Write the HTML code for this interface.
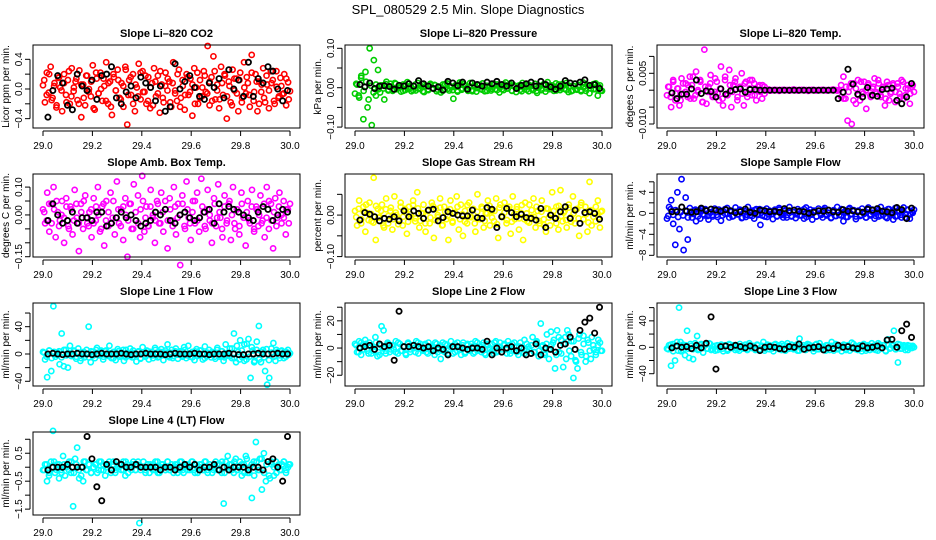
<!DOCTYPE html>
<html><head><meta charset="utf-8">
<style>
html,body{margin:0;padding:0;background:#fff;}
svg{display:block;font-family:"Liberation Sans",sans-serif;}
</style></head>
<body>
<svg id="chart" width="936" height="540" viewBox="0 0 936 540" xmlns="http://www.w3.org/2000/svg">
<text x="468" y="14" text-anchor="middle" font-size="13">SPL_080529  2.5 Min. Slope Diagnostics</text>
</svg>
<script>
const xTicks = [29.0, 29.2, 29.4, 29.6, 29.8, 30.0];
const xTickLabels = ["29.0","29.2","29.4","29.6","29.8","30.0"];

const co2Colored = [5,-18,22,-5,30,-12,8,-25,15,2,-30,20,-8,12,-20,28,-3,10,-15,25,-38,6,-22,18,0,-10,32,-28,14,-6,22,-16,4,36,-20,10,-35,16,-2,26,-12,8,-24,30,-48,12,-8,20,-30,2,34,-14,24,-4,-20,16,-26,8,28,-10,18,-32,6,-18,22,-2,10,-24,36,-6,-16,26,-12,4,-28,20,-8,14,-36,28,2,-20,12,-10,24,-4,58,-22,16,44,-14,6,-26,30,-8,18,-40,10,-18,26,-2,14,-30,22,-12,36,-6,8,-24,46,-16,20,-30,10,-4,28,-18,6,-26,24,12,-20,3,-12,15,-7,20,-22,9,-3];
const co2Extra = [12,-8,20,-15,4,-22,16,-2,8,-18,24,-10,2,14,-20,6,-12,18,-4,10,-26,22,-6,0,14,-16,8,-24,20,-2,12,-14,4,26,-8,16,-20,6,-10,22,-4,18,-16,2,-22,10,-6,24,-12,4,14,-18,8,-2,20,-24,12,-8,16,-4,6,-20,22,-12,2,18,-6,10,-16,24,-2,-14,8,20,-10,4,-22,14,-6,12,-18,2,16,-8,22,-4,10,-20,6,-12,18,-2,8,-16,24,-10,4,-6,14,-14];
const co2Black = [-38,-2,18,8,-22,-28,20,4,-2,12,-14,18,20,30,-12,-20,-4,4,-12,16,8,2,-16,4,-30,-24,34,0,10,18,2,-10,-14,8,2,14,-12,26,0,12,-10,36,-10,14,8,30,24,0,-16,-2];
const presColored = [-15,8,-25,30,-80,40,-50,100,-95,70,-20,45,-12,6,-30,15,-5,10,-8,12,-4,2,-10,8,-6,14,-2,-9,5,-7,12,-3,9,-11,4,-6,10,-1,7,-9,3,-12,8,-4,11,-7,2,-28,6,-10,13,-5,9,-2,-8,12,-6,4,-10,7,-3,11,-9,5,-1,-7,10,-4,8,-12,3,-6,13,-2,9,-8,6,-11,2,-5,12,-3,7,-9,4,-6,10,-13,5,-2,8,-10,14,-4,6,-8,11,-1,-6,9,-3,12,-11,4,-7,10,-5,2,-9,13,-2,7,-14,5,-4,11,-20,6,-8];
const presExtra = [10,-20,25,-8,15,-30,5,-12,8,-4,6,-2,9,-7,3,-5,10,-1,4,-8,7,-3,2,-6,8,-2,5,-9,3,-4,7,-1,6,-5,2,-8,9,-3,4,-6,1,-7,8,-2,5,-4,3,-9,6,-1,7,-5,2,-8,4,-3,9,-6,1,-4,8,-2,5,-7,3,-1,6,-9,2,-5,7,-3,4,-8,1,-6,9,-2,5,-4,3,-7,8,-1,6,-5,2,-9,4,-3,7,-6,1,-8,5,-2,9,-4,3,-7];
const presBlack = [8,2,12,-2,4,5,3,-4,6,4,10,4,18,10,4,-2,2,-6,16,12,5,14,-4,12,8,4,14,10,16,8,4,12,-2,6,10,14,4,16,8,2,-4,4,18,12,10,14,20,6,8,-2];
const tempColored = [-15,10,-50,25,-30,5,-45,35,-10,20,-20,40,15,-25,55,-5,30,-35,120,-40,10,45,-15,-5,25,-30,70,-45,40,-10,60,-50,15,35,-20,5,50,-45,25,-10,30,-15,20,-30,10,-5,15,-10,0,2,-1,0,1,0,-2,0,1,0,0,-1,0,2,0,-1,0,1,0,0,-2,0,1,0,-1,0,0,1,0,-1,0,0,2,0,-1,0,-20,40,-25,-90,10,-100,20,-40,30,-30,-5,25,-55,15,-15,5,35,-10,20,-20,10,-45,25,-30,-5,15,-35,20,-10,30,-25,5,15,-40,10,-5];
const tempExtra = [10,-20,30,-10,5,-30,20,-5,15,-25,40,-15,0,25,-35,10,-5,20,-20,35,-10,5,-25,30,-15,15,-5,25,-30,10,-10,20,-20,5,30,-15,0,15,-25,10,0,0,0,0,0,0,0,0,0,0,0,0,0,0,0,0,0,0,0,0,0,0,0,0,0,0,0,0,0,0,15,-25,10,-5,20,-30,5,-15,25,-10,0,20,-20,10,-5,30,-15,5,-25,15,-10,20,-5,10,-20,25,-15,5,-10,15];
const tempBlack = [-8,-25,-12,-12,4,30,-10,-2,-4,-20,4,-12,-2,2,4,-6,2,2,0,0,0,0,0,0,0,0,0,0,0,0,0,0,0,0,-25,-6,62,18,-12,-20,8,-15,-18,2,4,6,-30,-40,-20,20];
const ambColored = [2,-3,8,-6,4,10,-8,1,-2,5,-10,6,-4,3,-7,9,-1,-13,4,-5,7,-3,1,-8,6,-2,10,-6,3,-11,5,-4,8,-1,-7,12,-3,2,-9,6,-15,4,-5,11,-2,7,-8,14,-6,3,-4,9,-1,-10,5,-3,8,-6,2,-12,6,-2,10,-7,4,-18,7,-4,12,-1,-9,5,-3,8,-6,13,1,-5,9,-2,-10,6,-4,11,-1,-8,7,-3,4,-9,10,-5,2,-7,8,-1,-11,5,-3,9,-6,3,-4,7,-2,-8,10,-5,4,-12,6,-1,8,-3,5,-7,2,4];
const ambExtra = [1,-2,4,-3,2,5,-4,0,-1,3,-5,2,-2,4,-3,1,5,-1,-4,2,-3,3,0,-5,4,-2,1,-3,5,-1,2,-4,3,0,-2,4,-5,1,-3,2,5,-1,-4,3,0,-2,4,-3,1,5,-2,2,-4,3,-1,0,4,-5,2,-3,1,5,-2,-1,3,-4,2,0,-3,4,-1,1,-5,3,-2,5,0,-3,2,-4,4,-1,1,-2,3,-5,2,0,-3,4,-1,5,-2,1,-4,3,0,-1,2,-3];
const ambBlack = [-2,4,0,-3,-2,1,-3,-1,-1,-2,1,1,-4,-3,-1,1,-1,0,-2,-4,-3,-2,1,0,2,-2,-3,0,1,-1,-2,-1,1,2,-3,4,1,3,2,1,0,-1,-2,1,3,2,-2,0,2,1];
const rhColored = [10,-25,35,-10,20,-40,5,30,-15,90,-60,15,-5,25,-30,40,-20,10,-35,45,0,-10,30,-25,15,-45,20,-5,35,-15,55,-30,5,25,-40,10,-20,30,-55,15,-5,40,-25,20,-10,-60,35,-15,5,45,-35,25,-50,10,-20,30,-5,15,-40,50,-10,20,-30,5,35,-25,10,-15,40,-55,25,-5,30,-20,15,-45,45,-10,20,-35,5,-60,30,-15,25,-5,40,-30,10,-20,35,-10,-40,15,-25,55,-5,20,-35,60,-15,10,-30,25,-5,45,-20,15,-50,30,-10,20,-40,80,-25,5,-15,35,-30,10];
const rhExtra = [-5,15,-20,8,25,-12,3,-18,22,-6,10,-25,14,-2,18,-10,6,-22,20,-4,12,-16,2,24,-8,16,-14,4,-20,10,-6,22,-12,0,18,-24,8,-2,14,-18,6,20,-10,2,-16,24,-4,12,-20,8,-8,16,-14,4,22,-6,10,-22,18,-2,6,-12,20,-16,2,14,-8,24,-10,4,-18,12,-4,20,-14,8,-24,16,-6,0,10,-20,22,-2,6,-12,18,-16,4,14,-8,24,-10,2,-18,12,-4,20,-6,8];
const rhBlack = [-12,6,2,-4,-14,-8,-10,-4,-14,10,-4,10,4,-8,12,14,-14,-6,8,4,0,-2,-2,12,-6,-8,18,14,-30,-4,16,6,-4,2,-6,-8,-12,16,-30,0,-8,8,20,-8,12,-20,6,8,4,-10];
const sampColored = [-10,12,25,-20,-60,40,-30,65,-70,30,-50,10,-8,5,-15,3,-10,8,-4,6,-12,2,-6,9,-3,7,-14,4,-1,10,-8,3,-5,11,-2,6,-9,1,-7,12,-4,5,-10,8,-3,-22,6,-6,9,-2,4,-11,7,-5,10,-1,-8,6,-3,12,-6,2,-9,8,-4,5,-10,11,-2,7,-12,3,-6,9,-1,-8,10,-4,6,-9,2,-5,12,-3,8,-15,4,-7,10,-2,6,-11,3,-5,9,-1,-8,11,-4,7,-10,2,-6,12,-3,5,-9,8,-2,-12,10,-5,4,-8,11,-1,6,-10,3,7];
const sampExtra = [-5,8,-3,6,-7,2,-4,5,-8,3,-1,7,-6,4,-2,8,-5,1,-3,6,-7,2,-4,8,-1,5,-6,3,-2,7,-8,4,-3,1,-5,6,-2,8,-4,3,-7,5,-1,2,-6,7,-3,4,-8,1,-5,6,-2,3,-4,8,-7,2,-1,5,-6,4,-3,7,-2,1,-8,6,-5,3,-4,2,-7,8,-1,4,-6,5,-3,2,-8,7,-2,1,-5,6,-4,3,-7,8,-1,2,-6,5,-3,4,-8,7,-2,1];
const sampBlack = [3,3,12,4,2,3,10,5,8,6,4,7,5,1,3,8,2,0,6,5,3,4,2,9,5,6,4,3,0,2,5,4,6,3,2,7,4,5,3,2,8,6,9,4,3,1,11,7,-10,10];
const l1Colored = [3,-8,-34,5,-25,70,-4,2,-15,30,-18,6,-20,12,-3,4,-7,8,-10,2,-5,6,40,-12,3,-6,9,-2,5,-8,4,-1,12,-6,3,-9,7,-4,2,-10,6,-3,8,-5,1,-11,4,-7,10,-2,5,-8,3,-6,9,-1,-4,7,-9,2,14,-5,6,-3,8,-7,4,-2,10,-6,12,-4,3,-9,7,-1,5,-8,11,-3,6,-5,2,-7,9,-4,4,-10,14,-2,8,-6,30,-12,3,20,-5,14,-8,22,-35,5,-10,18,41,-12,6,-25,-45,-35,8,16,-10,3,-6,5,2,-4,6,1];
const l1Extra = [2,-4,5,-6,3,-1,4,-5,6,-2,1,-3,5,-4,2,-6,3,0,-5,4,-2,6,-1,3,-4,5,-3,1,-6,2,4,-2,6,-5,1,-3,5,-1,3,-6,2,-4,4,0,-2,6,-5,3,-1,5,-3,2,-6,4,-1,3,-4,6,-2,1,-5,4,-3,5,0,-6,2,-1,3,-4,6,-2,4,-5,1,-3,8,-6,12,-8,5,-10,15,-4,10,-12,6,-8,3,-5,7,-9,2,-4,6,-2,4,-6,3,-1];
const l1Black = [0,1,0,-1,0,0,1,0,0,-1,0,1,0,0,0,1,0,-1,0,0,1,0,0,0,-1,0,1,0,0,0,1,0,0,-1,0,0,0,1,0,-1,-1,0,0,1,0,0,0,1,0,0];
const l2Colored = [3,-3,5,-5,2,6,-2,4,-4,1,8,-6,-5,16,13,-2,4,-3,2,-1,5,-4,3,-2,1,-5,4,-3,2,0,5,-4,3,-1,2,-3,4,-2,1,-5,3,-1,-8,4,-3,2,-1,5,-4,3,-2,1,-5,4,-3,2,-1,3,-4,5,-2,1,-3,4,-5,2,-1,3,-4,5,-2,4,-3,2,-1,5,-4,3,-2,1,-5,4,-3,6,-2,1,-4,8,-3,5,-6,18,2,-5,10,-8,12,4,-15,13,-3,6,-14,8,13,-2,5,-22,-9,-15,10,-5,3,-10,6,-2,8,-1,-3,2,4,-2];
const l2Extra = [2,-3,4,-1,3,-4,1,-2,4,-3,2,0,-4,3,-1,2,-3,4,-2,1,-4,3,-1,2,-3,4,0,-2,3,-4,1,-1,4,-3,2,-2,3,-4,1,0,-3,4,-1,2,-4,3,-2,1,-3,4,-1,2,-4,3,0,-2,4,-3,1,-1,3,-4,2,-2,4,-3,1,0,-4,3,-1,2,-3,4,-2,1,-4,3,-1,2,6,-5,8,-4,3,-8,10,-6,5,-10,7,-3,9,-6,4,-8,2,-5,6,-2];
const l2Black = [0,1,2,-1,3,1,2,-9,27,1,1,2,1,0,1,-2,0,-1,-5,1,1,0,-1,0,0,-1,5,-5,0,-3,0,1,-2,0,-5,-4,3,-5,0,-1,-3,2,3,8,-1,13,19,22,11,30];
const l3Colored = [-2,3,-28,5,-20,8,60,-6,4,-12,25,-16,2,-18,6,17,-3,5,-8,3,-2,6,-4,1,-5,3,-1,4,-6,2,-3,5,-1,3,-4,2,-5,1,-2,4,-3,6,-1,2,-4,3,-5,1,8,-2,4,-3,2,-6,5,-1,3,-4,2,-5,6,-2,4,-3,1,-5,13,-2,3,-4,5,-1,2,-6,4,-3,6,-2,1,-5,3,-4,8,-2,5,-3,1,-6,4,-2,3,-5,7,-1,2,-4,3,-6,5,-2,1,-4,6,-3,2,-5,4,-1,3,-6,12,-2,5,25,-3,-23,4,-2,3,1,-4,2,-1,0];
const l3Extra = [-3,4,-6,2,-5,8,-4,3,-2,5,-3,1,-4,3,-1,4,-2,5,-3,2,-4,1,-2,3,-5,4,-1,2,-3,5,-2,1,-4,3,0,-2,4,-3,2,-5,1,3,-2,4,-1,-3,5,-4,2,-1,3,-2,4,-5,1,-3,2,4,-1,-2,5,-3,1,-4,3,-1,2,-5,4,-2,1,3,-4,2,-1,5,-3,1,-2,4,-5,3,-1,2,-4,6,-2,3,-5,4,-1,2,-3,5,-2,1,-4,3,-1,2];
const l3Black = [-1,2,0,1,-2,3,-1,6,46,-33,1,2,0,3,1,-1,2,-1,-5,0,1,0,-2,-3,1,0,5,-3,-1,0,1,-4,-1,-2,3,0,1,-1,-2,2,-1,0,2,-1,11,12,0,25,35,15];
const l4Colored = [-1,1,-5,-3,2,13,-2,1,-4,-1,4,-3,1,2,-2,-14,3,7,-4,-3,-5,2,-1,1,-2,0,1,-2,2,-1,1,-3,0,2,-1,1,-2,0,1,-1,2,-3,1,0,-1,2,-1,1,-20,0,2,-1,1,-2,0,1,-1,2,-2,1,0,-1,2,-1,1,-2,0,1,-1,2,-2,1,-1,0,2,-1,1,-2,0,1,-1,2,-2,1,0,-1,2,-1,1,-2,-13,2,4,-1,1,-2,3,-1,2,-3,1,4,-2,0,-11,2,9,-1,3,-8,5,-5,2,-4,1,-3,2,0,-1,1,2,-2,0,1];
const l4Extra = [-1,1,-2,0,2,-1,1,-2,1,0,-1,2,-2,1,-1,0,2,-1,1,-2,0,1,-1,2,-1,0,1,-2,2,-1,0,1,-1,2,-2,0,1,-1,2,-1,0,-2,1,1,-1,2,-2,0,1,-1,2,-1,0,1,-2,2,-1,0,1,-1,2,-2,0,1,-1,2,-1,0,-2,1,1,-1,2,-2,0,1,-1,2,-1,0,1,-2,3,-2,1,-3,2,-1,3,-2,1,-3,2,0,-2,1,-1,2,-1,1];
const l4Black = [-1,0,0,0,1,0,0,0,11,3,-7,-12,1,-1,2,1,0,0,1,0,0,0,0,-1,0,0,-1,0,1,0,1,-1,0,0,1,-1,0,-1,0,0,0,-1,0,0,-1,2,3,0,-5,11];

const NS = "http://www.w3.org/2000/svg";
const svg = document.getElementById("chart");
function mk(tag, attrs, parent) {
  const e = document.createElementNS(NS, tag);
  for (const k in attrs) e.setAttribute(k, attrs[k]);
  (parent || svg).appendChild(e);
  return e;
}

const colLeft = [33, 345, 657];
const rowTop = [45, 174, 303, 432];
const W = 267, H = 83;

const panels = [
  {name:"li820-co2", title:"Slope Li\u2013820 CO2", ytitle:"Licor ppm per min.", col:"#ff0000", c:co2Colored, e:co2Extra, b:co2Black, min:-52.6, max:59.3, ticks:[-40,-20,0,20,40], labels:{"-40":"\u22120.4","0":"0.0","40":"0.4"}},
  {name:"li820-pressure", title:"Slope Li\u2013820 Pressure", ytitle:"kPa per min.", col:"#00cd00", c:presColored, e:presExtra, b:presBlack, min:-102.3, max:108.4, ticks:[-100,-50,0,50,100], labels:{"-100":"\u22120.10","0":"0.00","100":"0.10"}},
  {name:"li820-temp", title:"Slope Li\u2013820 Temp.", ytitle:"degees C per min.", col:"#ff00ff", c:tempColored, e:tempExtra, b:tempBlack, min:-111.8, max:133.7, ticks:[-100,-50,0,50,100], labels:{"-100":"\u22120.010","50":"0.005"}},
  {name:"amb-box-temp", title:"Slope Amb. Box Temp.", ytitle:"degrees C per min.", col:"#ff00ff", c:ambColored, e:ambExtra, b:ambBlack, min:-15.1, max:14.7, ticks:[-15,-10,-5,0,5,10], labels:{"-15":"\u22120.15","0":"0.00","10":"0.10"}},
  {name:"gas-stream-rh", title:"Slope Gas Stream RH", ytitle:"percent per min.", col:"#ffff00", c:rhColored, e:rhExtra, b:rhBlack, min:-101, max:99, ticks:[-100,-50,0,50], labels:{"-100":"\u22120.10","0":"0.00"}},
  {name:"sample-flow", title:"Slope Sample Flow", ytitle:"ml/min per min.", col:"#0000ff", c:sampColored, e:sampExtra, b:sampBlack, min:-83.2, max:74.9, ticks:[-80,-60,-40,-20,0,20,40,60], labels:{"-80":"\u22128","-40":"\u22124","0":"0","40":"4"}},
  {name:"line1-flow", title:"Slope Line 1 Flow", ytitle:"ml/min per min.", col:"#00ffff", c:l1Colored, e:l1Extra, b:l1Black, min:-46.9, max:74.7, ticks:[-40,-20,0,20,40,60], labels:{"-40":"\u221240","0":"0","40":"40"}},
  {name:"line2-flow", title:"Slope Line 2 Flow", ytitle:"ml/min per min.", col:"#00ffff", c:l2Colored, e:l2Extra, b:l2Black, min:-27.9, max:33.1, ticks:[-20,-10,0,10,20,30], labels:{"-20":"\u221220","0":"0","20":"20"}},
  {name:"line3-flow", title:"Slope Line 3 Flow", ytitle:"ml/min per min.", col:"#00ffff", c:l3Colored, e:l3Extra, b:l3Black, min:-58.6, max:67, ticks:[-60,-40,-20,0,20,40,60], labels:{"-40":"\u221240","0":"0","40":"40"}},
  {name:"line4-lt-flow", title:"Slope Line 4 (LT) Flow", ytitle:"ml/min per min.", col:"#00ffff", c:l4Colored, e:l4Extra, b:l4Black, min:-17.1, max:12.6, ticks:[-15,-10,-5,0,5,10], labels:{"-15":"\u22121.5","-5":"\u22120.5","5":"0.5"}}
];

panels.forEach((p, idx) => {
  const L = colLeft[idx % 3], T = rowTop[Math.floor(idx / 3)];
  const g = mk("g", {});
  
  
  const xs = v => L + 10 + (v - 29) * 247;
  const ys = v => T + H - (v - p.min) / (p.max - p.min) * H;

  const t = mk("text", {x: L + W / 2, y: T - 8, "text-anchor": "middle", "font-size": "11", "font-weight": "bold"}, g);
  t.textContent = p.title;
  
  

  const pts = mk("g", {fill: "none", "stroke-width": "1.6"}, g);
  
  
  const ne = p.e.length;
  p.e.forEach((v, i) => {
    const c = mk("circle", {cx: xs(29 + (i + 0.5) / ne), cy: ys(v), r: 2.6, stroke: p.col}, pts);
    
    
  });
  const n = p.c.length;
  p.c.forEach((v, i) => {
    const c = mk("circle", {cx: xs(29 + i / (n - 1)), cy: ys(v), r: 2.6, stroke: p.col}, pts);
    
    
  });
  const m = p.b.length;
  p.b.forEach((v, i) => {
    const c = mk("circle", {cx: xs(29 + 0.02 + i * 0.97 / (m - 1)), cy: ys(v), r: 2.6, stroke: "#000", "stroke-width": "1.8"}, pts);
    
    
  });

  const box = mk("rect", {x: L, y: T, width: W, height: H, fill: "none", stroke: "#000", "stroke-width": "1"}, g);
  
  

  const xa = mk("g", {stroke: "#000"}, g);
  
  
  mk("line", {x1: xs(29), x2: xs(30), y1: T + H + 3, y2: T + H + 3}, xa);
  xTicks.forEach((v, i) => {
    mk("line", {x1: xs(v), x2: xs(v), y1: T + H + 3, y2: T + H + 8}, xa);
    const lt = mk("text", {x: xs(v), y: T + H + 21, "text-anchor": "middle", "font-size": "10", stroke: "none"}, xa);
    lt.textContent = xTickLabels[i];
    
    
  });

  const ya = mk("g", {stroke: "#000"}, g);
  
  
  const tv = p.ticks.filter(v => v >= p.min - 0.5 && v <= p.max + 0.5);
  mk("line", {x1: L - 3, x2: L - 3, y1: ys(tv[0]), y2: ys(tv[tv.length - 1])}, ya);
  tv.forEach(v => {
    mk("line", {x1: L - 8, x2: L - 3, y1: ys(v), y2: ys(v)}, ya);
    const lab = p.labels[String(v)];
    if (lab) {
      const lt = mk("text", {x: 0, y: 0, transform: `translate(${L - 11},${ys(v)}) rotate(-90)`, "text-anchor": "middle", "font-size": "10", stroke: "none"}, ya);
      lt.textContent = lab;
      
      
    }
  });
  const yt = mk("text", {x: 0, y: 0, transform: `translate(${L - 24},${T + H / 2}) rotate(-90)`, "text-anchor": "middle", "font-size": "10"}, g);
  yt.textContent = p.ytitle;
  
  
});
</script>
</body></html>
